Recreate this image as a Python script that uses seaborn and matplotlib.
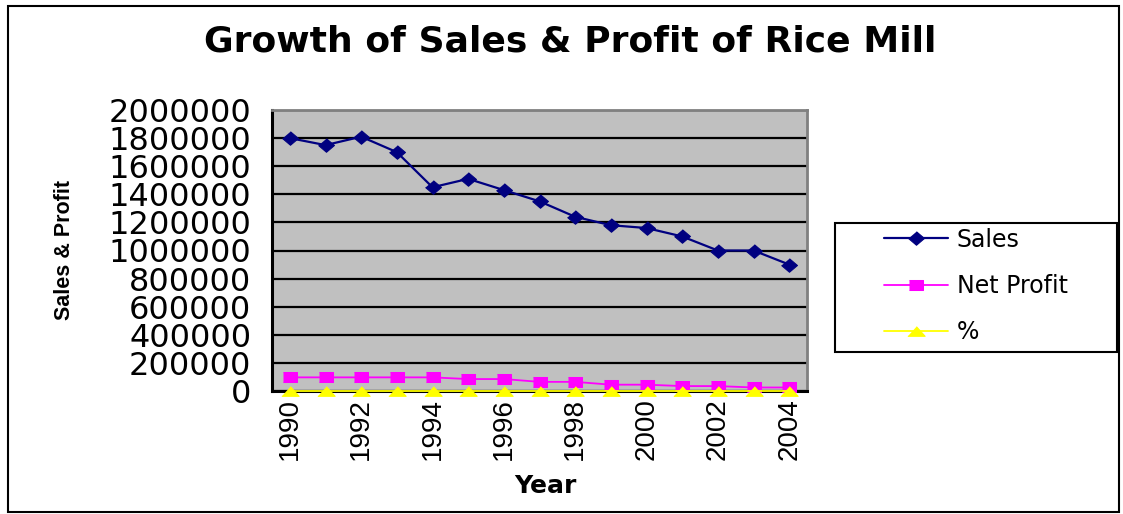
import numpy as np
import pandas as pd
import matplotlib
matplotlib.use('Agg')
import matplotlib.pyplot as plt
from matplotlib.patches import Rectangle
from matplotlib.ticker import FixedLocator, NullFormatter
import seaborn as sns

# Data
years = [1990, 1991, 1992, 1993, 1994, 1995, 1996, 1997, 1998, 1999,
         2000, 2001, 2002, 2003, 2004]
sales = [1800000, 1750000, 1810000, 1700000, 1450000, 1510000, 1430000, 1350000,
         1240000, 1180000, 1160000, 1100000, 1000000, 1000000, 900000]
net_profit = [97000, 97000, 97000, 97000, 97000, 85000, 85000, 65000,
              65000, 45000, 45000, 35000, 35000, 25000, 25000]
percent = [5.3, 5.4, 5.2, 5.6, 6.6, 5.6, 5.9, 4.8, 5.2, 3.8, 3.9, 3.2, 3.5, 2.5, 2.8]

df = pd.DataFrame({'pos': np.arange(len(years)), 'Sales': sales,
                   'Net Profit': net_profit, '%': percent})

sns.set_style('white')
plt.rcParams['font.family'] = ['DejaVu Sans']
plt.rcParams['text.color'] = 'black'
plt.rcParams['xtick.color'] = 'black'
plt.rcParams['ytick.color'] = 'black'
plt.rcParams['xtick.labelcolor'] = 'black'
plt.rcParams['ytick.labelcolor'] = 'black'

# Excel-like markers: slightly wider than tall
diamond = [(0, 0.85), (1, 0), (0, -0.85), (-1, 0)]
rect = [(-1.4, -1), (1.4, -1), (1.4, 1), (-1.4, 1)]
tri = [(0, 1), (1.8, -1), (-1.8, -1)]

fig = plt.figure(figsize=(11.23, 5.14), dpi=100)
ax = fig.add_axes([272 / 1123, 1 - 391 / 514, (807 - 272) / 1123, (391 - 110) / 514])
ax.set_facecolor('#C0C0C0')

# Series
sns.lineplot(data=df, x='pos', y='Sales', ax=ax, color='#000080', marker=diamond,
             markersize=11.5, markeredgecolor='#000080', linewidth=1.6, label='Sales',
             clip_on=False, zorder=3)
sns.lineplot(data=df, x='pos', y='Net Profit', ax=ax, color='#FF00FF', marker=rect,
             markersize=10, markeredgecolor='#FF00FF', linewidth=1.3,
             label='Net Profit', clip_on=False, zorder=3)
sns.lineplot(data=df, x='pos', y='%', ax=ax, color='#FFFF00', marker=tri,
             markersize=12.5, markeredgecolor='#FFFF00', linewidth=1.3, label='%',
             clip_on=False, zorder=6)

# Axes limits & ticks
ax.set_xlim(-0.5, len(years) - 0.5)
ax.set_ylim(0, 2000000)
yt = np.arange(0, 2000001, 200000)
ax.set_yticks(yt)
ax.set_yticklabels([str(v) for v in yt], fontsize=23)
ax.yaxis.grid(True, color='black', linewidth=1.6)
ax.set_axisbelow(True)

ax.set_xticks(np.arange(0, len(years), 2))
ax.set_xticklabels([str(y) for y in years[::2]], rotation=90, fontsize=20,
                   family='Liberation Sans')
ax.xaxis.set_minor_locator(FixedLocator(np.arange(-0.5, len(years), 1)))
ax.xaxis.set_minor_formatter(NullFormatter())
ax.tick_params(axis='x', which='major', length=0, pad=5)
ax.tick_params(axis='x', which='minor', length=7, width=1.8, color='black',
               direction='out')
ax.tick_params(axis='y', length=6, width=1.8, color='black', direction='out',
               pad=9)

ax.set_xlabel('')
ax.set_ylabel('')

for side in ['left', 'bottom']:
    ax.spines[side].set_color('black')
    ax.spines[side].set_linewidth(2.2)
for side in ['top', 'right']:
    ax.spines[side].set_color('#808080')
    ax.spines[side].set_linewidth(2)

# Legend: frame drawn separately
ax.legend(loc='center left', bbox_to_anchor=(872 / 1123, 1 - 286 / 514),
          bbox_transform=fig.transFigure, frameon=False, fontsize=17,
          handlelength=2.7, handletextpad=0.4, labelspacing=0.95, borderpad=0)
fig.add_artist(Rectangle((835 / 1123, 1 - 352 / 514), (1117 - 835) / 1123, 129 / 514,
                         transform=fig.transFigure, fill=False, edgecolor='black',
                         linewidth=1.5))

# Texts
fig.text(570 / 1123, 1 - 42 / 514, 'Growth of Sales & Profit of Rice Mill',
         ha='center', va='center', fontsize=26, fontweight='bold')
fig.text(65 / 1123, 1 - 250 / 514, 'Sales & Profit', rotation=90, ha='center',
         va='center', fontsize=15.5, fontweight='bold', family='Liberation Sans')
fig.text(545 / 1123, 1 - 486 / 514, 'Year', ha='center', va='center',
         fontsize=18, fontweight='bold')

# Outer chart border
fig.add_artist(Rectangle((8 / 1123, 2 / 514), (1119 - 8) / 1123, (508 - 2) / 514,
                         transform=fig.transFigure, fill=False, edgecolor='black',
                         linewidth=1.5))

fig.savefig('out.png', dpi=100)
